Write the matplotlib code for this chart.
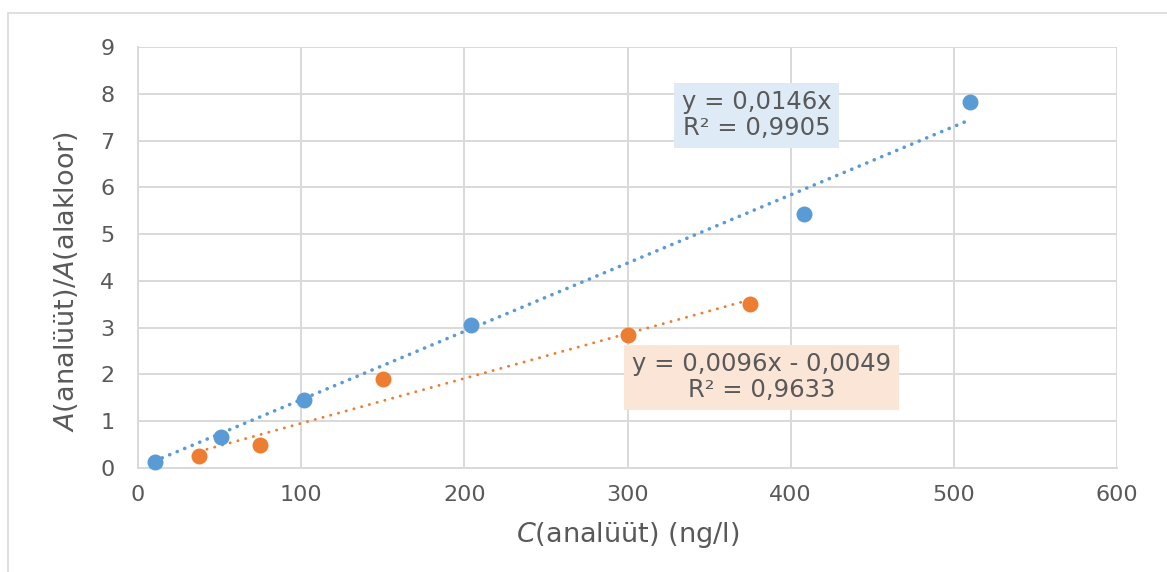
import matplotlib
matplotlib.use("Agg")
import matplotlib.pyplot as plt
import numpy as np
from matplotlib.patches import Rectangle

# Calibration data: concentration (ng/l) vs. peak-area ratio analyte/internal standard
blue_conc = [10.2, 51, 102, 204, 408, 510]
blue_ratio = [0.13, 0.66, 1.45, 3.06, 5.44, 7.83]
orange_conc = [37.5, 75, 150, 300, 375]
orange_ratio = [0.26, 0.49, 1.91, 2.84, 3.51]

# Linear trendlines as reported in the equation labels
blue_slope, blue_intercept = 0.0146, 0.0
orange_slope, orange_intercept = 0.0096, -0.0049
blue_label = "y = 0,0146x\nR² = 0,9905"
orange_label = "y = 0,0096x - 0,0049\nR² = 0,9633"

x_ticks = [0, 100, 200, 300, 400, 500, 600]
y_ticks = [0, 1, 2, 3, 4, 5, 6, 7, 8, 9]

BLUE = "#5B9BD5"
ORANGE = "#ED7D31"
GRID = "#D9D9D9"
TEXT = "#595959"

plt.rcParams["font.family"] = ["DejaVu Sans"]
plt.rcParams["mathtext.fontset"] = "dejavusans"

fig = plt.figure(figsize=(11.67, 5.72), dpi=100)
fig.patch.set_facecolor("white")

# Chart-area frame
fig.patches.append(Rectangle((8 / 1167, -0.2), 1.5, 1.2 - 13 / 572,
                             transform=fig.transFigure, fill=False,
                             edgecolor=GRID, linewidth=1.2, zorder=0))

ax = fig.add_axes([138 / 1167, (572 - 468) / 572, (1117 - 138) / 1167, (468 - 47) / 572])
ax.set_xlim(0, 600)
ax.set_ylim(0, 9)
ax.set_xticks(x_ticks)
ax.set_yticks(y_ticks)
ax.grid(True, color=GRID, linewidth=1.4, zorder=0)
ax.set_axisbelow(True)
for side in ["top", "right"]:
    ax.spines[side].set_visible(False)
for side in ["left", "bottom"]:
    ax.spines[side].set_color(GRID)
    ax.spines[side].set_linewidth(1.4)
ax.tick_params(axis="both", length=0, labelsize=16, labelcolor=TEXT)
ax.tick_params(axis="x", pad=12)
ax.tick_params(axis="y", pad=17)

# Trendlines over each series' data range
bx = np.array([min(blue_conc), max(blue_conc)])
ox = np.array([min(orange_conc), max(orange_conc)])
ax.plot(bx, blue_slope * bx + blue_intercept, color=BLUE, linewidth=2.6,
        linestyle=(0, (0.05, 2.2)), dash_capstyle="round", zorder=2)
ax.plot(ox, orange_slope * ox + orange_intercept, color=ORANGE, linewidth=2.1,
        linestyle=(0, (0.05, 2.7)), dash_capstyle="round", zorder=2)

# Data points
ax.plot(blue_conc, blue_ratio, "o", color=BLUE, markersize=11.5,
        markeredgewidth=0, zorder=3, clip_on=False)
ax.plot(orange_conc, orange_ratio, "o", color=ORANGE, markersize=11.5,
        markeredgewidth=0, zorder=3, clip_on=False)

# Trendline equation labels
ax.text(379, 7.54, blue_label, fontsize=17.5, color=TEXT,
        ha="center", va="center", linespacing=1.1, zorder=4,
        bbox=dict(boxstyle="square,pad=0.32", facecolor="#DEEBF7", edgecolor="none"))
ax.text(382, 1.94, orange_label, fontsize=17.5, color=TEXT,
        ha="center", va="center", linespacing=1.1, multialignment="center", zorder=4,
        bbox=dict(boxstyle="square,pad=0.32", facecolor="#FBE5D6", edgecolor="none"))

ax.set_xlabel(r"$\mathit{C}$(analüüt) (ng/l)", fontsize=19.5, color=TEXT, labelpad=11)
ax.set_ylabel(r"$\mathit{A}$(analüüt)/$\mathit{A}$(alakloor)", fontsize=19.5, color=TEXT)
ax.yaxis.set_label_coords(-0.059, 0.444)

fig.savefig("out.png", dpi=100, facecolor="white")
